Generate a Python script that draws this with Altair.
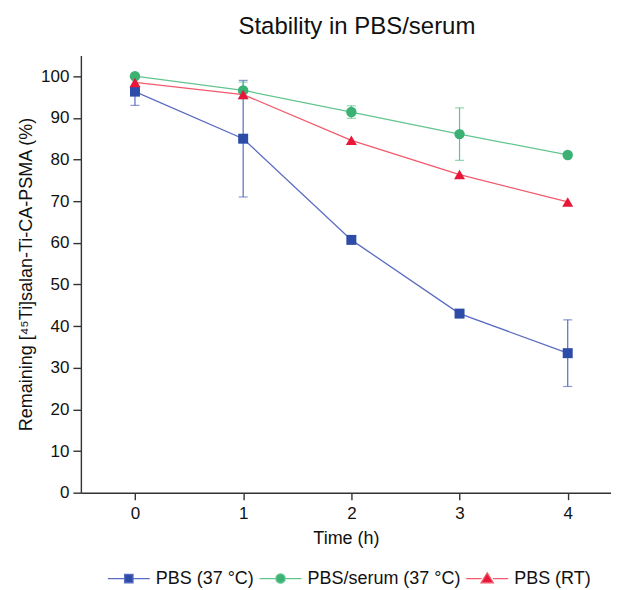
import altair as alt
import pandas as pd

series = ["PBS (37 °C)", "PBS/serum (37 °C)", "PBS (RT)"]
times = [0, 1, 2, 3, 4]
pbs37 = [96.3, 85.0, 60.7, 43.0, 33.5]
pbs37_err = [3.3, 14.0, 0.0, 0.0, 8.0]
serum37 = [100.0, 96.6, 91.4, 86.1, 81.1]
serum37_err = [0.0, 2.0, 1.5, 6.3, 0.0]
pbsrt = [98.5, 95.6, 84.6, 76.4, 69.8]
pbsrt_err = [0.0, 0.0, 0.0, 0.0, 0.0]

point_colors = ["#2C4CA8", "#3BB273", "#E8173A"]
line_colors = ["#5A6CC2", "#62C590", "#F25A6C"]
shapes = ["square", "circle", "triangle-up"]
sizes = [100, 120, 150]
legend_paths = [
    "M-1,0H-0.2M0.2,0H1M-0.2,-0.2H0.2V0.2H-0.2Z",
    "M-1,0H-0.22M0.22,0H1M0.22,0A0.22,0.22,0,1,1,-0.22,0A0.22,0.22,0,1,1,0.22,0Z",
    "M-1,0H-0.27M0.27,0H1M0,-0.27L0.29,0.2L-0.29,0.2Z",
]

rows = []
for s, vals, errs in zip(series, [pbs37, serum37, pbsrt], [pbs37_err, serum37_err, pbsrt_err]):
    for t, v, e in zip(times, vals, errs):
        rows.append({"series": s, "time": t, "value": v, "err": e, "lo": v - e, "hi": v + e})
df = pd.DataFrame(rows)

FONT = "Liberation Sans"

x = alt.X("time:Q", scale=alt.Scale(domain=[-0.5, 4.4], nice=False, zero=False),
          axis=alt.Axis(title="Time (h)", values=[0, 0.5, 1, 1.5, 2, 2.5, 3, 3.5, 4],
                        labelExpr="datum.value % 1 === 0 ? datum.label : ''",
                        format="d", labelOverlap=False,
                        tickSize={"condition": {"test": "datum.value % 1 !== 0", "value": 4}, "value": 7},
                        titlePadding=8, labelPadding=6, titleFontSize=18))
y = alt.Y("value:Q", scale=alt.Scale(domain=[0, 105], nice=False),
          axis=alt.Axis(title="Remaining [⁴⁵Ti]salan-Ti-CA-PSMA (%)", values=list(range(0, 101, 5)),
                        labelExpr="datum.value % 10 === 0 ? datum.label : ''", labelOverlap=False,
                        tickSize={"condition": {"test": "datum.value % 10 !== 0", "value": 4}, "value": 8},
                        titlePadding=5, labelPadding=4, titleFontSize=18))

line_scale = alt.Scale(domain=series, range=line_colors)
pt_scale = alt.Scale(domain=series, range=point_colors)

base = alt.Chart(df)

lines = base.mark_line(strokeWidth=1.3).encode(
    x=x, y=y, color=alt.Color("series:N", scale=line_scale, legend=None), detail="series:N")

err_df = df[df["err"] > 0]
ebase = alt.Chart(err_df)
err_rule = ebase.mark_rule(strokeWidth=1.2).encode(
    x="time:Q", y="lo:Q", y2="hi:Q", color=alt.Color("series:N", scale=line_scale, legend=None))
cap_lo = ebase.mark_tick(orient="horizontal", size=9, thickness=1.2).encode(
    x="time:Q", y="lo:Q", color=alt.Color("series:N", scale=line_scale, legend=None))
cap_hi = ebase.mark_tick(orient="horizontal", size=9, thickness=1.2).encode(
    x="time:Q", y="hi:Q", color=alt.Color("series:N", scale=line_scale, legend=None))

points = base.mark_point(filled=True, opacity=1).encode(
    x="time:Q", y="value:Q",
    color=alt.Color("series:N", scale=pt_scale, legend=None),
    shape=alt.Shape("series:N", scale=alt.Scale(domain=series, range=shapes), legend=None),
    size=alt.Size("series:N", scale=alt.Scale(domain=series, range=sizes), legend=None))

leg = alt.Legend(title=None, orient="none", direction="horizontal", legendX=26, legendY=502,
                 symbolSize=1764, symbolStrokeWidth=1.3, labelFont=FONT, labelFontSize=18,
                 labelColor="#111", labelOffset=5, columnPadding=2, padding=0)
legend_layer = base.mark_point(filled=True, opacity=1, strokeWidth=1.3, size=1764).encode(
    x="time:Q", y="value:Q",
    fill=alt.Fill("series:N", scale=pt_scale, legend=leg),
    stroke=alt.Stroke("series:N", scale=line_scale, legend=leg),
    shape=alt.Shape("series:N", scale=alt.Scale(domain=series, range=legend_paths), legend=leg),
).transform_filter("false")

chart = alt.layer(lines, err_rule, cap_lo, cap_hi, points, legend_layer).resolve_scale(
    color="independent", shape="independent", size="independent",
    fill="independent", stroke="independent"
).properties(
    width=531, height=438,
    title=alt.Title("Stability in PBS/serum", fontSize=24, font=FONT, fontWeight="normal",
                    color="#111", offset=16, dx=11),
    autosize=alt.AutoSizeParams(type="none"),
    padding={"left": 73, "top": 47, "right": 0, "bottom": 95},
).configure_view(stroke=None).configure_axis(
    grid=False, domainColor="#333", domainWidth=1.4, tickColor="#333", tickWidth=1.4,
    labelFont=FONT, titleFont=FONT, labelFontSize=17, titleFontSize=18,
    labelColor="#111", titleColor="#111", titleFontWeight="normal"
)

chart.save("out.html", embed_options={"renderer": "svg", "actions": False})
